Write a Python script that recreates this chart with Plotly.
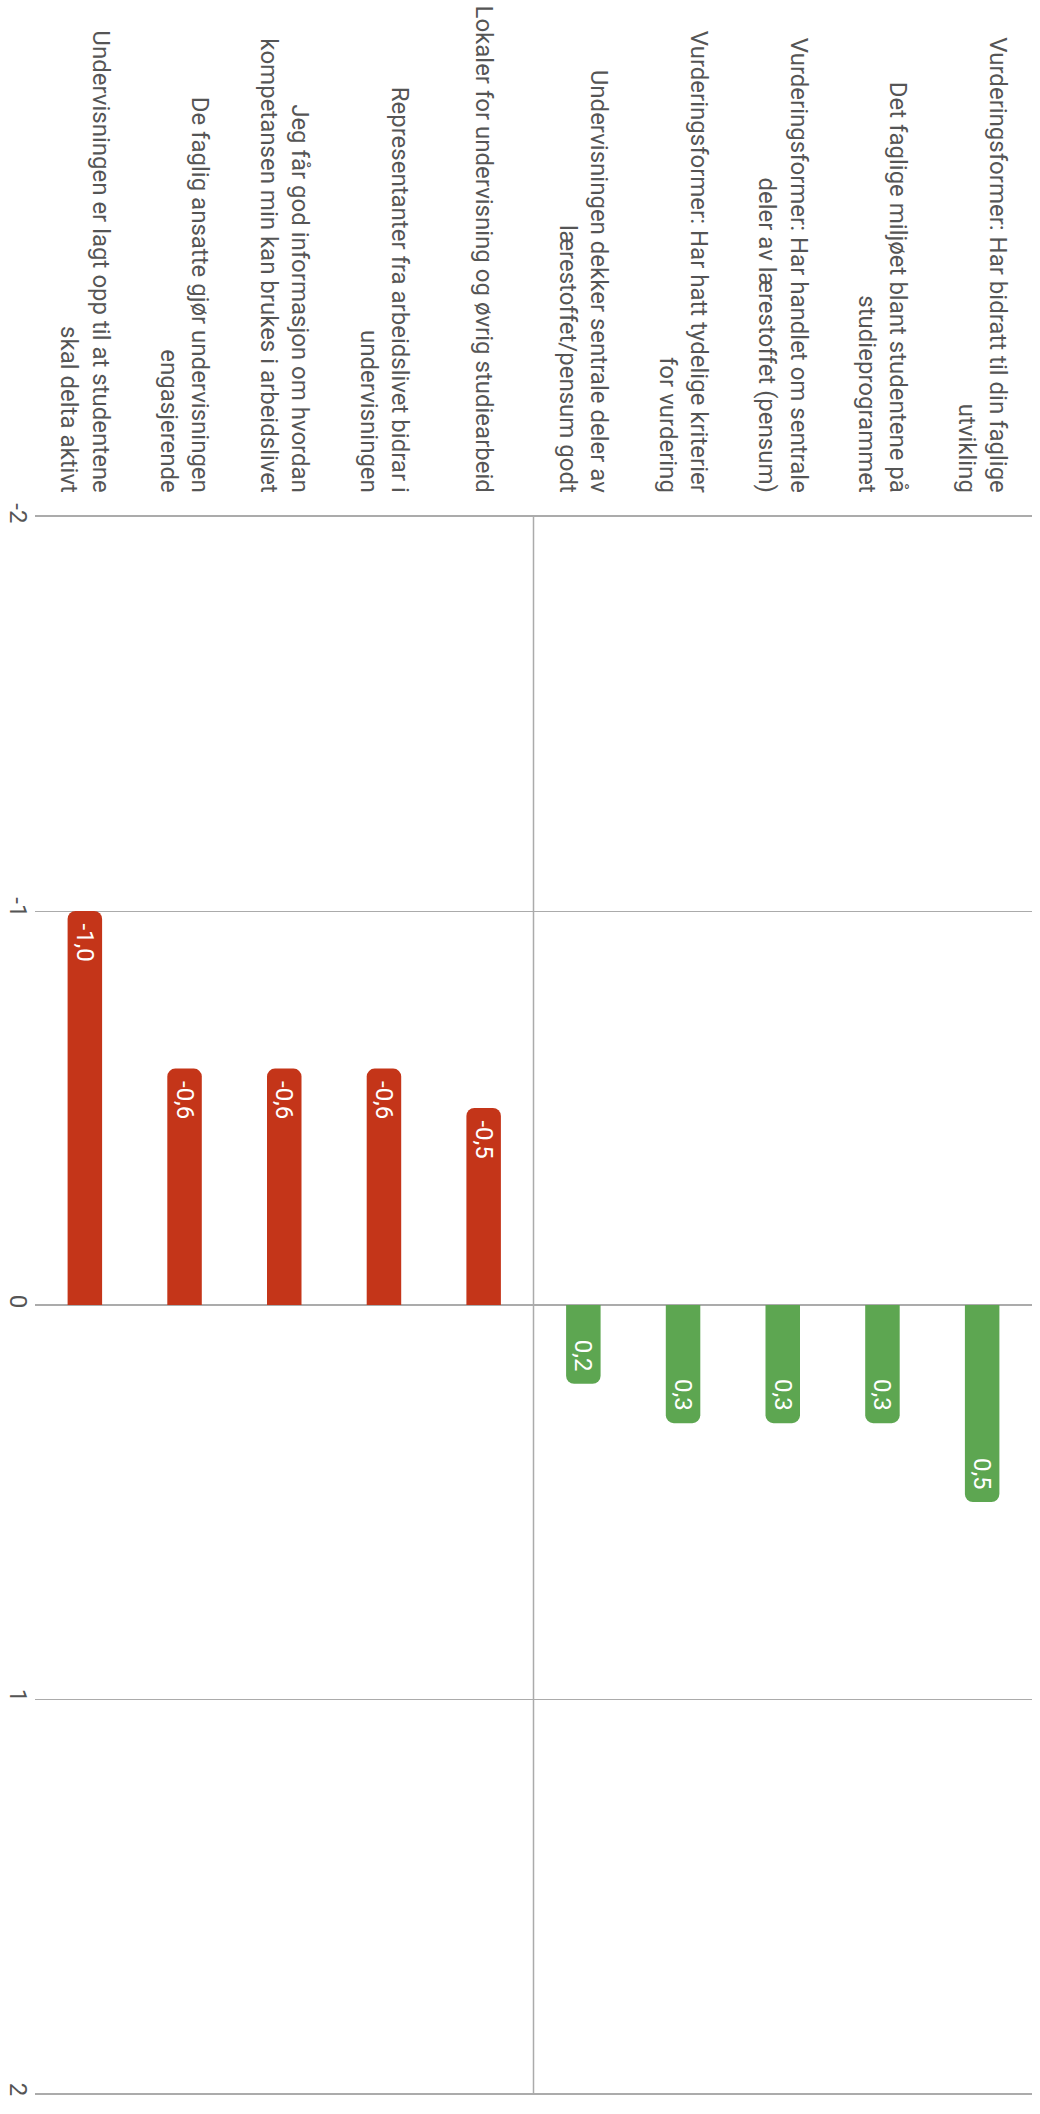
import plotly.graph_objects as go

categories = [
    "Undervisningen er lagt opp til at studentene<br>skal delta aktivt",
    "De faglig ansatte gjør undervisningen<br>engasjerende",
    "Jeg får god informasjon om hvordan<br>kompetansen min kan brukes i arbeidslivet",
    "Representanter fra arbeidslivet bidrar i<br>undervisningen",
    "Lokaler for undervisning og øvrig studiearbeid",
    "Undervisningen dekker sentrale deler av<br>lærestoffet/pensum godt",
    "Vurderingsformer: Har hatt tydelige kriterier<br>for vurdering",
    "Vurderingsformer: Har handlet om sentrale<br>deler av lærestoffet (pensum)",
    "Det faglige miljøet blant studentene på<br>studieprogrammet",
    "Vurderingsformer: Har bidratt til din faglige<br>utvikling",
]
values = [-1.0, -0.6, -0.6, -0.6, -0.5, 0.2, 0.3, 0.3, 0.3, 0.5]
tick_vals = [-2, -1, 0, 1, 2]
tick_text = ["-2", "-1", "0", "1", "2"]

RED = "#c43519"
GREEN = "#5da651"
GRID = "#ababab"
TEXT = "#555555"

colors = [RED if v < 0 else GREEN for v in values]
PAD = "\u00a0"
labels = []
for v in values:
    s = f"{v:.1f}".replace(".", ",")
    labels.append(PAD + s if v < 0 else s + PAD)

fig = go.Figure()
fig.add_trace(go.Bar(
    x=categories,
    y=values,
    marker=dict(color=colors, line=dict(width=0), cornerradius=8),
    text=labels,
    textposition="inside",
    insidetextanchor="end",
    textangle=90,
    textfont=dict(family="Roboto", size=24, color="white"),
    hoverinfo="skip",
))

n_neg = sum(1 for v in values if v < 0)
fig.add_shape(type="line", xref="x", yref="paper",
              x0=n_neg - 0.5, x1=n_neg - 0.5, y0=0, y1=1,
              line=dict(color=GRID, width=1.5), layer="below")

fig.update_layout(
    width=1040, height=2114,
    margin=dict(l=35, r=8, t=517, b=21),
    paper_bgcolor="white", plot_bgcolor="white",
    separators=", ",
    bargap=0.654,
    showlegend=False,
    font=dict(family="Roboto", size=24, color=TEXT),
    xaxis=dict(
        side="top", tickangle=90, showgrid=False, automargin=False,
        ticks="outside", ticklen=14, tickcolor="rgba(0,0,0,0)",
        showline=True, mirror=True, linecolor=GRID, linewidth=1.5,
        tickfont=dict(family="Roboto", size=24, color=TEXT),
        fixedrange=True,
    ),
    yaxis=dict(
        range=[2, -2], tickvals=tick_vals, ticktext=tick_text,
        tickangle=90, showgrid=True, gridcolor=GRID, gridwidth=1,
        zeroline=True, zerolinecolor=GRID, zerolinewidth=2,
        automargin=False, ticks="",
        tickfont=dict(family="Roboto", size=24, color=TEXT),
        fixedrange=True,
    ),
)

fig.write_html(
    "out.html",
    config={"displayModeBar": False},
    post_script="document.body.style.margin='0';document.body.style.overflow='hidden';",
)
